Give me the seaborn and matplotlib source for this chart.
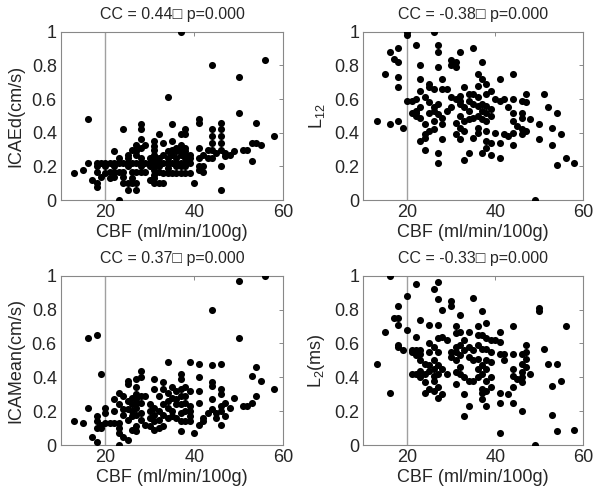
import numpy as np
import pandas as pd
import seaborn as sns
from matplotlib import pyplot as plt

# (CBF, value) pairs
icaed_pts = [(13,0.16),(15,0.18),(16,0.48),(16,0.22),(17,0.12),(18,0.10),(18,0.08),(18,0.17),(18,0.20),(18,0.22),
    (19,0.14),(19,0.22),(20,0.16),(20,0.22),(20,0.20),(21,0.13),(21,0.17),(21,0.22),(22,0.14),(22,0.17),(22,0.20),
    (22,0.22),(22,0.29),(23,0.0),(23,0.17),(23,0.22),(23,0.25),(24,0.42),(24,0.14),(24,0.22),(24,0.17),(24,0.10),
    (25,0.06),(25,0.10),(25,0.20),(25,0.22),(25,0.25),(25,0.27),(26,0.10),(26,0.13),(26,0.22),(26,0.30),(26,0.17),
    (27,0.06),(27,0.10),(27,0.17),(27,0.22),(27,0.27),(27,0.33),(27,0.29),(28,0.45),(28,0.42),(28,0.36),(28,0.22),
    (28,0.20),(28,0.17),(28,0.31),(28,0.25),(29,0.33),(29,0.22),(29,0.17),(30,0.22),(30,0.20),(30,0.12),(30,0.25),
    (31,0.10),(31,0.13),(31,0.15),(31,0.18),(31,0.20),(31,0.22),(31,0.24),(31,0.27),(31,0.30),(31,0.32),(31,0.35),
    (32,0.10),(32,0.39),(32,0.20),(32,0.22),(32,0.17),(32,0.25),(33,0.10),(33,0.16),(33,0.22),(33,0.27),(33,0.34),
    (34,0.61),(34,0.22),(34,0.25),(34,0.29),(34,0.16),(34,0.19),(35,0.45),(35,0.35),(35,0.22),(35,0.27),(35,0.16),
    (35,0.30),(36,0.16),(36,0.22),(36,0.25),(36,0.29),(36,0.31),(36,0.20),(37,1.0),(37,0.39),(37,0.33),(37,0.30),
    (37,0.27),(37,0.22),(37,0.16),(37,0.20),(38,0.42),(38,0.39),(38,0.31),(38,0.29),(38,0.27),(38,0.25),(38,0.22),
    (38,0.16),(38,0.20),(39,0.27),(39,0.22),(39,0.16),(39,0.25),(40,0.10),(41,0.48),(41,0.46),(41,0.31),(41,0.25),
    (41,0.18),(41,0.20),(42,0.17),(42,0.20),(42,0.27),(43,0.25),(43,0.30),(44,0.80),(44,0.42),(44,0.38),(44,0.34),
    (44,0.30),(44,0.25),(45,0.28),(46,0.46),(46,0.42),(46,0.38),(46,0.34),(46,0.30),(46,0.20),(46,0.06),(47,0.28),
    (47,0.26),(48,0.27),(49,0.29),(50,0.73),(50,0.52),(51,0.30),(52,0.30),(53,0.23),(53,0.34),(54,0.46),(54,0.34),
    (55,0.33),(56,0.83),(58,0.38)]

l12_pts = [(13,0.47),(15,0.75),(16,0.88),(16,0.45),(17,0.84),(18,0.90),(18,0.82),(18,0.73),(18,0.67),(18,0.47),
    (19,0.43),(20,1.0),(20,0.98),(20,0.59),(21,0.59),(22,0.92),(22,0.60),(22,0.53),(22,0.50),(21,0.52),(22,0.52),
    (23,0.80),(23,0.72),(23,0.65),(23,0.55),(23,0.49),(23,0.35),(24,0.61),(24,0.45),(24,0.39),(24,0.37),(24,0.30),
    (25,0.58),(25,0.52),(25,0.41),(25,0.69),(25,0.67),(26,1.0),(26,0.66),(26,0.55),(26,0.53),(26,0.47),(26,0.42),
    (27,0.92),(27,0.88),(27,0.79),(27,0.57),(27,0.51),(27,0.28),(27,0.22),(28,0.72),(28,0.66),(28,0.49),(28,0.45),
    (28,0.36),(29,0.66),(29,0.53),(30,0.83),(30,0.80),(30,0.61),(30,0.55),(31,0.82),(31,0.79),(31,0.60),(31,0.46),
    (31,0.39),(32,0.88),(32,0.62),(32,0.59),(32,0.57),(32,0.50),(32,0.43),(32,0.36),(33,0.67),(33,0.55),(33,0.47),
    (33,0.41),(33,0.24),(34,0.63),(34,0.59),(34,0.53),(34,0.48),(34,0.28),(35,0.90),(35,0.63),(35,0.57),(35,0.49),
    (35,0.37),(36,0.75),(36,0.68),(36,0.61),(36,0.56),(36,0.50),(36,0.43),(36,0.40),(37,0.82),(37,0.72),(37,0.57),
    (37,0.53),(37,0.48),(37,0.28),(38,0.69),(38,0.63),(38,0.56),(38,0.52),(38,0.47),(38,0.41),(38,0.35),(38,0.31),
    (39,0.65),(39,0.54),(39,0.50),(39,0.34),(39,0.27),(40,0.60),(40,0.40),(41,0.72),(41,0.59),(41,0.34),(41,0.25),
    (42,0.60),(42,0.39),(43,0.38),(43,0.55),(44,0.75),(44,0.60),(44,0.52),(44,0.47),(44,0.40),(44,0.33),(45,0.44),
    (46,0.59),(46,0.52),(46,0.49),(46,0.42),(46,0.39),(47,0.63),(47,0.58),(47,0.41),(48,0.48),(49,0.0),(50,0.45),
    (50,0.36),(51,0.63),(52,0.55),(53,0.43),(53,0.33),(54,0.52),(54,0.21),(55,0.39),(56,0.25),(58,0.22)]

icamean_pts = [(13,0.14),(15,0.13),(16,0.63),(16,0.22),(17,0.05),(18,0.65),(18,0.02),(18,0.10),(18,0.14),(18,0.17),
    (19,0.42),(19,0.12),(19,0.10),(20,0.13),(20,0.19),(20,0.22),(21,0.13),(22,0.27),(22,0.13),(22,0.20),(23,0.0),
    (23,0.07),(23,0.10),(23,0.13),(23,0.24),(23,0.31),(24,0.29),(24,0.21),(24,0.18),(24,0.05),(25,0.38),(25,0.36),
    (25,0.26),(25,0.21),(25,0.03),(25,0.15),(26,0.28),(26,0.24),(26,0.20),(26,0.09),(26,0.17),(27,0.39),(27,0.34),
    (27,0.30),(27,0.27),(27,0.25),(27,0.22),(27,0.18),(27,0.11),(27,0.08),(28,0.44),(28,0.40),(28,0.29),(28,0.25),
    (28,0.19),(28,0.15),(29,0.29),(29,0.12),(30,0.24),(30,0.20),(30,0.16),(30,0.11),(31,0.39),(31,0.33),(31,0.22),
    (31,0.18),(31,0.14),(31,0.09),(32,0.29),(32,0.20),(32,0.15),(32,0.10),(33,0.37),(33,0.33),(33,0.24),(33,0.18),
    (33,0.11),(34,0.49),(34,0.31),(34,0.26),(34,0.22),(34,0.16),(35,0.34),(35,0.28),(35,0.20),(35,0.17),(36,0.32),
    (36,0.27),(36,0.24),(36,0.16),(37,0.42),(37,0.39),(37,0.33),(37,0.29),(37,0.24),(37,0.19),(37,0.14),(37,0.08),
    (38,0.34),(38,0.29),(38,0.25),(38,0.20),(38,0.14),(39,0.49),(39,0.32),(39,0.23),(39,0.20),(39,0.17),(39,0.14),
    (40,0.07),(41,0.48),(41,0.40),(41,0.32),(41,0.25),(41,0.12),(42,0.16),(42,0.14),(43,0.19),(44,0.80),(44,0.47),
    (44,0.37),(44,0.35),(44,0.27),(44,0.21),(45,0.19),(45,0.16),(46,0.48),(46,0.33),(46,0.30),(46,0.23),(46,0.20),
    (46,0.12),(47,0.25),(47,0.17),(48,0.22),(49,0.28),(50,0.97),(50,0.63),(51,0.23),(52,0.23),(53,0.41),(53,0.25),
    (54,0.46),(54,0.29),(55,0.38),(56,1.0),(58,0.33)]

l2_pts = [(13,0.48),(15,0.67),(16,1.0),(16,0.31),(17,0.75),(18,0.75),(18,0.82),(18,0.71),(18,0.59),(18,0.58),
    (19,0.56),(20,0.88),(20,0.68),(21,0.56),(21,0.55),(21,0.42),(22,0.95),(22,0.64),(22,0.56),(22,0.53),(22,0.42),
    (23,0.74),(23,0.56),(23,0.54),(23,0.50),(23,0.44),(23,0.40),(24,0.48),(24,0.42),(24,0.37),(24,0.31),(25,0.71),
    (25,0.60),(25,0.55),(25,0.47),(25,0.44),(25,0.33),(26,0.92),(26,0.58),(26,0.50),(26,0.45),(26,0.41),(26,0.38),
    (26,0.32),(27,0.96),(27,0.86),(27,0.71),(27,0.63),(27,0.55),(27,0.47),(27,0.42),(27,0.34),(27,0.28),(28,0.80),
    (28,0.64),(28,0.45),(28,0.30),(29,0.62),(29,0.42),(30,0.85),(30,0.82),(30,0.55),(30,0.52),(31,0.70),(31,0.66),
    (31,0.58),(31,0.55),(31,0.50),(31,0.43),(31,0.36),(32,0.77),(32,0.67),(32,0.59),(32,0.53),(32,0.46),(32,0.42),
    (33,0.62),(33,0.56),(33,0.40),(33,0.30),(33,0.17),(34,0.67),(34,0.58),(34,0.52),(34,0.38),(34,0.23),(35,0.87),
    (35,0.56),(35,0.50),(35,0.38),(36,0.70),(36,0.65),(36,0.59),(36,0.51),(36,0.45),(36,0.40),(37,0.79),(37,0.65),
    (37,0.57),(37,0.47),(37,0.42),(37,0.33),(37,0.31),(37,0.27),(38,0.72),(38,0.63),(38,0.57),(38,0.50),(38,0.45),
    (38,0.38),(38,0.32),(38,0.23),(39,0.62),(39,0.55),(39,0.49),(39,0.40),(39,0.34),(40,0.62),(41,0.67),(41,0.61),
    (41,0.54),(41,0.31),(41,0.25),(41,0.07),(42,0.54),(42,0.50),(43,0.30),(44,0.70),(44,0.54),(44,0.45),(44,0.41),
    (44,0.34),(44,0.25),(45,0.39),(46,0.54),(46,0.48),(46,0.43),(46,0.40),(46,0.37),(46,0.20),(47,0.59),(47,0.55),
    (47,0.51),(47,0.46),(48,0.42),(49,0.0),(50,0.81),(50,0.79),(51,0.57),(52,0.48),(53,0.35),(53,0.18),(54,0.48),
    (54,0.08),(55,0.38),(56,0.70),(58,0.09)]

titles = ["CC = 0.44\u25a1 p=0.000", "CC = -0.38\u25a1 p=0.000",
          "CC = 0.37\u25a1 p=0.000", "CC = -0.33\u25a1 p=0.000"]
ylabels = ["ICAEd(cm/s)", r"$\mathregular{L_{12}}$", "ICAMean(cm/s)", r"$\mathregular{L_{2}(ms)}$"]
xlabel = "CBF (ml/min/100g)"
x_ticks = [20, 40, 60]
y_ticks = [0, 0.2, 0.4, 0.6, 0.8, 1]
y_ticklabels = ["0", "0.2", "0.4", "0.6", "0.8", "1"]
threshold = 20

sns.set_style("white")
plt.rcParams['font.family'] = ['Liberation Sans', 'DejaVu Sans']

fig = plt.figure(figsize=(6.01, 4.98), dpi=100)
positions = [[0.1015, 0.598, 0.3694, 0.3386], [0.6045, 0.598, 0.366, 0.3386],
             [0.1015, 0.1064, 0.3694, 0.340], [0.6045, 0.1064, 0.366, 0.340]]

for pos, pts, title, ylab in zip(positions, [icaed_pts, l12_pts, icamean_pts, l2_pts], titles, ylabels):
    ax = fig.add_axes(pos)
    df = pd.DataFrame(pts, columns=["cbf", "val"])
    ax.axvline(threshold, color="#a0a0a0", lw=1.0, zorder=1)
    sns.scatterplot(data=df, x="cbf", y="val", ax=ax, color="black", s=26,
                    edgecolor="black", linewidth=0, zorder=3, legend=False)
    ax.set_xlim(10, 60)
    ax.set_ylim(0, 1)
    ax.set_xticks(x_ticks)
    ax.set_yticks(y_ticks)
    ax.set_yticklabels(y_ticklabels)
    ax.tick_params(direction="in", top=True, right=True, length=3, width=0.6,
                   color="#777777", labelsize=13, pad=3)
    for sp in ax.spines.values():
        sp.set_color("#888888")
        sp.set_linewidth(0.8)
    ax.set_title(title, fontsize=11.5, pad=9)
    ax.set_xlabel(xlabel, fontsize=13, labelpad=2)
    ax.set_ylabel(ylab, fontsize=13, labelpad=5)

plt.savefig("out.png", dpi=100)
